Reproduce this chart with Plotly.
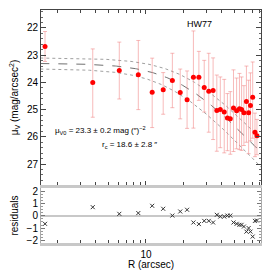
import numpy as np
import plotly.graph_objects as go

# ---- data ----
radius = [1.58, 3.78, 6.14, 8.69, 11.2, 13.7, 16.2, 18.7, 21.2, 23.8,
          26.3, 29.0, 31.5, 34.1, 36.5, 38.9, 41.8, 44.3, 46.7, 49.5,
          52.4, 55.2, 57.4, 59.9, 62.7, 65.3, 67.5, 70.3, 73.3, 76.0]
mu_v = [22.68, 24.0, 23.56, 23.72, 24.36, 24.27, 23.93, 24.37, 24.64, 23.81,
        23.81, 24.19, 24.33, 24.30, 25.03, 25.00, 25.09, 25.31, 25.34, 24.94,
        25.04, 24.97, 25.00, 25.12, 24.70, 25.12, 24.85, 24.55, 25.83, 25.96]
err_up = [0.55, 1.23, 1.04, 1.26, 1.25, 0.63, 1.0, 0.86, 1.06, 1.7,
          0.95, 1.0, 1.4, 1.2, 1.3, 1.2, 1.2, 0.9, 1.0, 1.4,
          1.2, 1.3, 1.2, 1.0, 1.3, 1.2, 1.2, 1.3, 0.7, 0.6]
err_down = [0.55, 1.28, 1.05, 1.28, 1.3, 0.9, 1.0, 0.97, 1.05, 1.87,
            0.85, 0.9, 1.5, 1.8, 1.5, 1.4, 1.5, 1.2, 1.3, 1.6,
            1.4, 1.5, 1.5, 1.2, 1.5, 1.5, 1.3, 1.5, 0.9, 0.7]
residuals = [-0.65, 0.70, 0.16, 0.22, 0.81, 0.57, 0.02, 0.35, 0.49, -0.54,
             -0.67, -0.41, -0.41, -0.54, 0.08, -0.06, -0.06, 0.02, 0.02, -0.54,
             -0.65, -0.73, -0.73, -0.87, -1.28, -0.99, -1.28, -1.68, -0.41, -0.38]

# fit parameters shown on the chart
MU0, MU0_ERR = 23.3, 0.2
RC, RC_ERR = 18.6, 2.8

x_major_ticks = [10]
x_minor_ticks = [2, 3, 4, 5, 6, 7, 8, 9, 20, 30, 40, 50, 60, 70, 80]

r_grid = np.logspace(np.log10(1.45), np.log10(85), 200)


def king(mu0, rc):
    return mu0 + 2.5 * np.log10(1 + (r_grid / rc) ** 2)


FONT = "Liberation Sans, Arial, sans-serif"

fig = go.Figure()

fig.add_trace(go.Scatter(x=r_grid, y=king(MU0 - MU0_ERR, RC + RC_ERR), mode="lines",
                         line=dict(color="#a0a0a0", width=1, dash="dot"),
                         xaxis="x", yaxis="y", showlegend=False))
fig.add_trace(go.Scatter(x=r_grid, y=king(MU0 + MU0_ERR, RC - RC_ERR), mode="lines",
                         line=dict(color="#a0a0a0", width=1, dash="dot"),
                         xaxis="x", yaxis="y", showlegend=False))
fig.add_trace(go.Scatter(x=r_grid, y=king(MU0, RC), mode="lines",
                         line=dict(color="#707070", width=1, dash="dash"),
                         xaxis="x", yaxis="y", showlegend=False))

fig.add_trace(go.Scatter(
    x=radius, y=mu_v, mode="markers",
    marker=dict(color="#ff0000", size=5),
    error_y=dict(type="data", symmetric=False, array=err_down, arrayminus=err_up,
                 color="rgba(240,130,130,0.55)", thickness=1, width=2),
    xaxis="x", yaxis="y", showlegend=False))

fig.add_trace(go.Scatter(
    x=radius, y=residuals, mode="markers",
    marker=dict(symbol="x-thin-open", size=4, color="#333333", line=dict(width=1, color="#333333")),
    xaxis="x2", yaxis="y2", showlegend=False))

x_common = dict(type="log", range=[0.1667, 1.913], tickvals=x_major_ticks,
                ticks="inside", ticklen=4, tickcolor="#444", showgrid=False, zeroline=False,
                minor=dict(tickvals=x_minor_ticks, ticks="inside", ticklen=3, tickcolor="#444",
                           showgrid=False),
                automargin=False)

fig.update_layout(
    width=270, height=270,
    margin=dict(l=41, r=9, t=10, b=27),
    paper_bgcolor="white", plot_bgcolor="white",
    font=dict(family=FONT, size=10, color="black"),
    xaxis=dict(**x_common, domain=[0, 1], anchor="y", showticklabels=False,
               showline=True, mirror="ticks", linecolor="#444", linewidth=1),
    yaxis=dict(domain=[0.249, 1.0], anchor="x", range=[27.77, 21.34], automargin=False,
               tickvals=[22, 23, 24, 25, 26, 27], ticks="inside", ticklen=5, tickcolor="#444",
               minor=dict(dtick=0.2, ticks="inside", ticklen=2, tickcolor="#666"),
               showline=True, mirror="ticks", linecolor="#444", linewidth=1,
               showgrid=False, zeroline=False, tickfont=dict(size=10, color="black"),
               title=dict(text="μ<sub>V</sub> (mag/arcsec<sup>2</sup>)",
                          font=dict(size=10, color="black"), standoff=6)),
    xaxis2=dict(**x_common, domain=[0, 1], anchor="y2", showticklabels=True,
                tickfont=dict(size=10, color="black"),
                showline=True, mirror=True, linecolor="#c8c8c8", linewidth=3,
                title=dict(text="R (arcsec)", font=dict(size=10, color="black"), standoff=2)),
    yaxis2=dict(domain=[0, 0.236], anchor="x2", range=[-2.2, 2.25], automargin=False,
                tickvals=[-2, -1, 0, 1, 2], ticks="inside", ticklen=4, tickcolor="#777",
                minor=dict(dtick=0.25, ticks="inside", ticklen=2, tickcolor="#999"),
                showline=True, mirror="ticks", linecolor="#aaaaaa", linewidth=1,
                showgrid=False, zeroline=True, zerolinecolor="#c8c8c8", zerolinewidth=2,
                tickfont=dict(size=10, color="black"),
                title=dict(text="residuals", font=dict(size=10, color="black"), standoff=6)),
    annotations=[
        dict(text="HW77", x=np.log10(26.8), y=21.84, xref="x", yref="y",
             showarrow=False, font=dict(size=9, color="black"), xanchor="center", yanchor="middle"),
        dict(text="μ<sub>V0</sub> = 23.3 ± 0.2 mag (″)<sup>−2</sup>", x=np.log10(1.83), y=25.75,
             xref="x", yref="y", showarrow=False, font=dict(size=8, color="black"),
             xanchor="left", yanchor="middle"),
        dict(text="r<sub>c</sub> = 18.6 ± 2.8 ″", x=np.log10(4.32), y=26.3,
             xref="x", yref="y", showarrow=False, font=dict(size=8, color="black"),
             xanchor="left", yanchor="middle"),
    ],
)

fig.write_html("out.html", config={"displayModeBar": False},
               post_script="document.body.style.margin='0';document.body.style.padding='0';")
